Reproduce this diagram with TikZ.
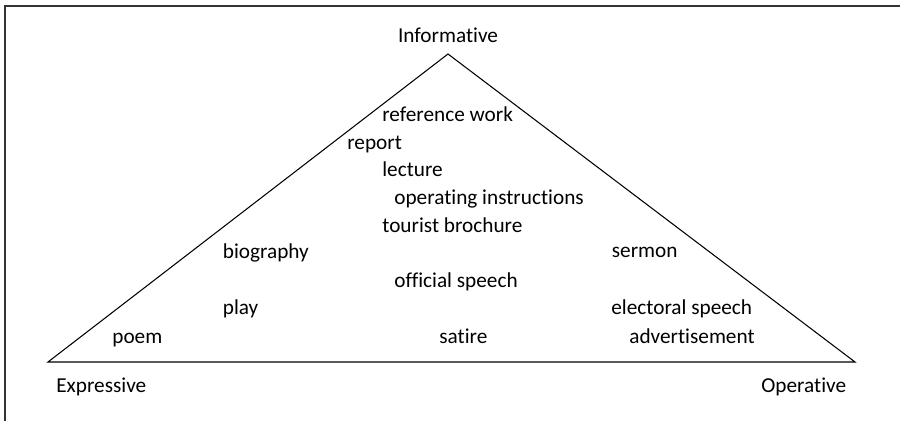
\documentclass[tikz,border=0pt]{standalone}
\usepackage{fontspec}
\setmainfont{Carlito}[Ligatures={TeX,NoCommon}]
\begin{document}
\begin{tikzpicture}[x=0.02cm, y=-0.02cm,
  txt/.style={anchor=base west, inner sep=0pt, font=\fontsize{12.1}{14}\selectfont}]
\useasboundingbox (0,0) rectangle (900,421);

\draw[line width=1.1pt, black!80] (5,421) -- (5,6) -- (900,6);

\coordinate (top) at (448,54);
\coordinate (left) at (48,362);
\coordinate (right) at (855,362);
\draw[line width=0.6pt] (left) -- (top) -- (right) -- cycle;

\node[txt, anchor=base] (informative) at (448,43) {Informative};
\node[txt] (expressive) at (56,393) {Expressive};
\node[txt] (operative) at (761,393) {Operative};

\node[txt] (refwork) at (382,121.5) {reference work};
\node[txt] (report) at (347,149.5) {report};
\node[txt] (lecture) at (382,177) {lecture};
\node[txt] (opinstr) at (394,205) {operating instructions};
\node[txt] (tourist) at (382,233) {tourist brochure};
\node[txt] (biography) at (222.5,259) {biography};
\node[txt] (sermon) at (611.5,258) {sermon};
\node[txt] (official) at (394,288) {official speech};
\node[txt] (play) at (222.5,315) {play};
\node[txt] (electoral) at (611,315) {electoral speech};
\node[txt] (poem) at (112,344) {poem};
\node[txt] (satire) at (439,344) {satire};
\node[txt] (advert) at (629,344) {advertisement};

\end{tikzpicture}
\end{document}
